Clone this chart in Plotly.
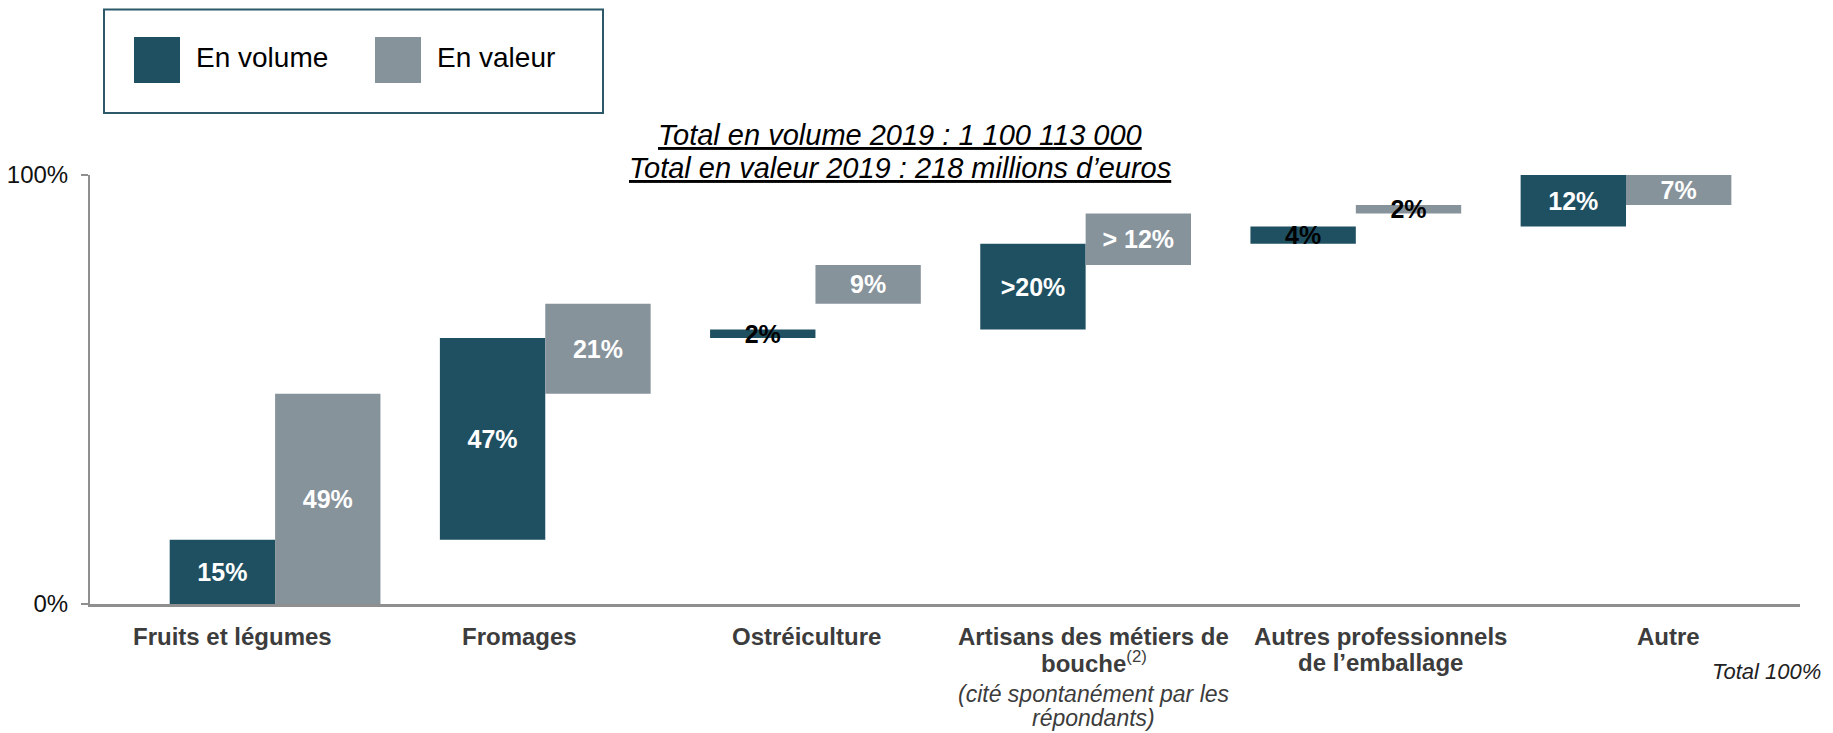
import plotly.graph_objects as go

# ---------------- data ----------------
categories = ["Fruits et légumes", "Fromages", "Ostréiculture",
              "Artisans des métiers de bouche", "Autres professionnels de l’emballage", "Autre"]
volume_share = [15, 47, 2, 20, 4, 12]          # % en volume
value_share = [49, 21, 9, 12, 2, 7]            # % en valeur
volume_labels = ["15%", "47%", "2%", ">20%", "4%", "12%"]
value_labels = ["49%", "21%", "9%", "> 12%", "2%", "7%"]
cat_label_lines = [["Fruits et légumes"], ["Fromages"], ["Ostréiculture"],
                   ["Artisans des métiers de", "bouche"], ["Autres professionnels", "de l’emballage"], ["Autre"]]
cat_label_notes = [[], [], [], ["(cité spontanément par les", "répondants)"], [], []]
y_tick_vals = [0, 100]
y_tick_text = ["0%", "100%"]
title_lines = ["Total en volume 2019 : 1 100 113 000", "Total en valeur 2019 : 218 millions d’euros"]
legend_names = ["En volume", "En valeur"]
footer_note = "Total 100%"

# ---------------- style / layout (page pixel coordinates) ----------------
OFF = 8                      # default page body margin
W, H = 1833 - OFF, 733 - OFF
ML, MR, MT, MB = 90 - OFF, 33, 175 - OFF, 129
PW, PH = W - ML - MR, H - MT - MB
FONT = "Liberation Sans, Arial, Helvetica, sans-serif"
C_VOL = "#1f5062"
C_VAL = "#87939b"
AXIS_C = "#8f8f8f"


def px_x(x):
    return (x - OFF - ML) / PW


def px_y(y):
    return (H - MB - (y - OFF)) / PH


def cum_base(vals):
    out, s = [], 0
    for v in vals:
        out.append(s)
        s += v
    return out


def label_color(vals, thr=5):
    return ["black" if v < thr else "white" for v in vals]


xs = list(range(len(categories)))

fig = go.Figure()
fig.add_trace(go.Bar(
    x=xs, y=volume_share, base=cum_base(volume_share), name=legend_names[0],
    marker=dict(color=C_VOL, line=dict(width=0)),
    text=["<b>%s</b>" % t for t in volume_labels], textposition="inside",
    insidetextanchor="middle", constraintext="none",
    textfont=dict(family=FONT, size=25, color=label_color(volume_share)),
    hovertext=categories, showlegend=False))
fig.add_trace(go.Bar(
    x=xs, y=value_share, base=cum_base(value_share), name=legend_names[1],
    marker=dict(color=C_VAL, line=dict(width=0)),
    text=["<b>%s</b>" % t for t in value_labels], textposition="inside",
    insidetextanchor="middle", constraintext="none",
    textfont=dict(family=FONT, size=25, color=label_color(value_share)),
    hovertext=categories, showlegend=False))

annotations = []
shapes = []

# category labels (below axis)
line_y = [636, 662, 694, 718]
for i, lines in enumerate(cat_label_lines):
    k = 0
    for j, ln in enumerate(lines):
        txt = "<b>%s</b>" % ln
        if i == 3 and j == 1:
            txt += "<sup>(2)</sup>"
        annotations.append(dict(x=i, xref="x", y=0, yref="paper", xanchor="center", yanchor="middle",
                                xshift=-43 + 17 * i, yshift=-(line_y[k] - OFF - (H - MB)),
                                text=txt, showarrow=False,
                                font=dict(family=FONT, size=24, color="#3c3c3c")))
        k += 1
    for ln in cat_label_notes[i]:
        annotations.append(dict(x=i, xref="x", y=0, yref="paper", xanchor="center", yanchor="middle",
                                xshift=-43 + 17 * i, yshift=-(line_y[k] - OFF - (H - MB)),
                                text="<i>%s</i>" % ln, showarrow=False,
                                font=dict(family=FONT, size=23, color="#3c3c3c")))
        k += 1

# title lines
for ln, yc in zip(title_lines, [135, 168]):
    annotations.append(dict(x=px_x(900), xref="paper", y=px_y(yc), yref="paper",
                            xanchor="center", yanchor="middle", showarrow=False,
                            text="<i><u>%s</u></i>" % ln,
                            font=dict(family=FONT, size=29, color="black")))

# footer note
annotations.append(dict(x=px_x(1766), xref="paper", y=px_y(671), yref="paper",
                        xanchor="center", yanchor="middle", showarrow=False,
                        text="<i>%s</i>" % footer_note,
                        font=dict(family=FONT, size=22, color="#222222")))

# legend box
shapes.append(dict(type="rect", xref="paper", yref="paper",
                   x0=px_x(104), x1=px_x(603), y0=px_y(113), y1=px_y(9.5),
                   line=dict(color="#2d5869", width=2), fillcolor="white", layer="above"))
for (x0, x1, tx), col, name in zip([(134, 180, 194), (375, 421, 435)], [C_VOL, C_VAL], legend_names):
    shapes.append(dict(type="rect", xref="paper", yref="paper",
                       x0=px_x(x0), x1=px_x(x1), y0=px_y(83), y1=px_y(37),
                       line=dict(width=0), fillcolor=col, layer="above"))
    annotations.append(dict(x=px_x(tx), xref="paper", y=px_y(57), yref="paper",
                            xanchor="left", yanchor="middle", showarrow=False, text=name,
                            font=dict(family=FONT, size=28, color="black")))

fig.update_layout(
    width=W, height=H,
    margin=dict(l=ML, r=MR, t=MT, b=MB, autoexpand=False),
    paper_bgcolor="white", plot_bgcolor="white",
    barmode="group", bargap=0.22, bargroupgap=0,
    showlegend=False,
    annotations=annotations, shapes=shapes,
    font=dict(family=FONT),
)
fig.update_xaxes(range=[-0.685, 5.644], showticklabels=False, showgrid=False, zeroline=False,
                 showline=True, linecolor=AXIS_C, linewidth=3, ticks="", fixedrange=True)
fig.update_yaxes(range=[0, 100], tickvals=y_tick_vals, ticktext=y_tick_text, showgrid=False,
                 zeroline=False, showline=True, linecolor=AXIS_C, linewidth=2,
                 ticks="outside", ticklen=7, tickwidth=2, tickcolor=AXIS_C, ticklabelstandoff=8,
                 tickfont=dict(family=FONT, size=24, color="#111111"), fixedrange=True)

fig.write_html("out.html")
